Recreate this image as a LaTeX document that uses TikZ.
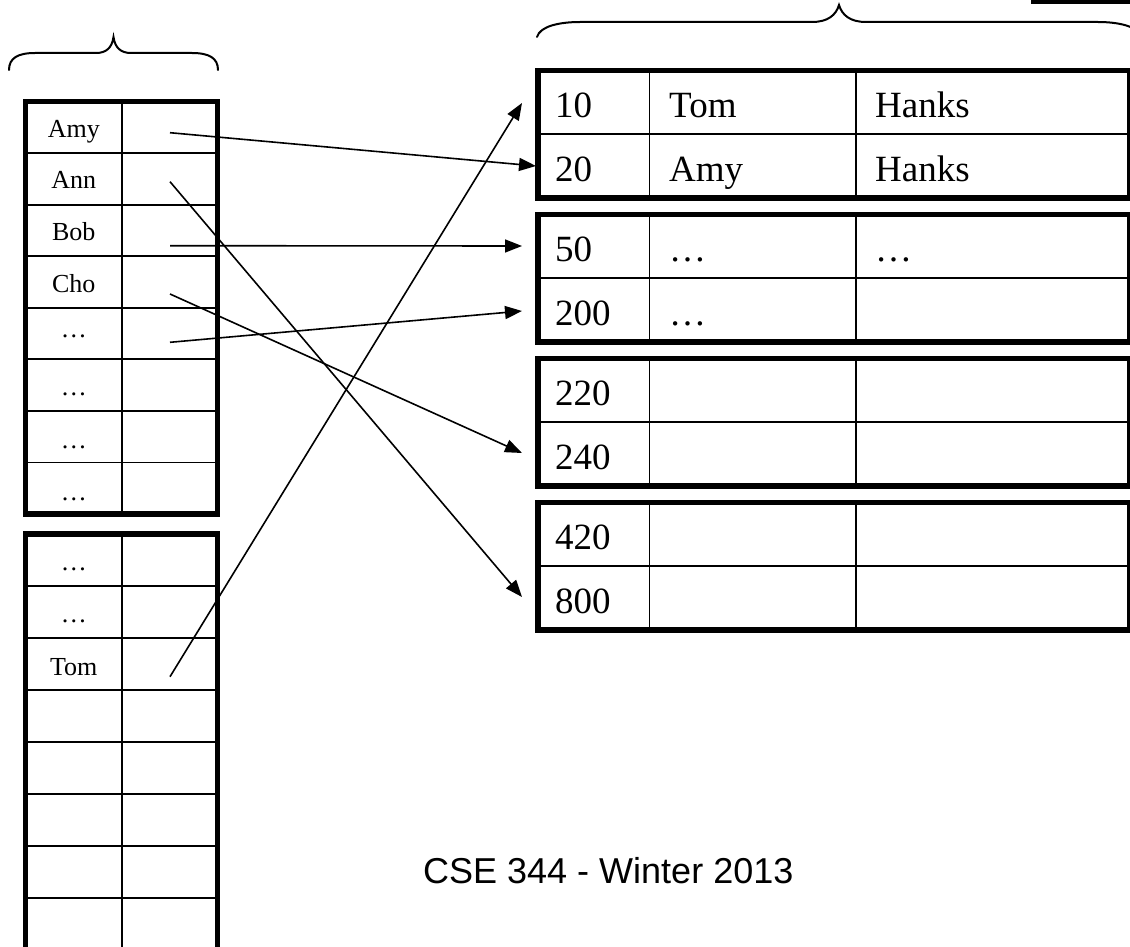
\documentclass[tikz,border=0pt]{standalone}
\usepackage{fontspec}
\setmainfont{Liberation Serif}
\newfontfamily\footfont{Liberation Sans}
\usetikzlibrary{arrows.meta}

\begin{document}
\begin{tikzpicture}[x=1pt,y=-1pt,
  frame/.style={line width=5.5pt},
  grid/.style={line width=1.8pt},
  brace/.style={line width=2pt, line cap=round},
  ptr/.style={line width=1.6pt, -{Triangle[length=17pt,width=13pt]}},
  idx/.style={font=\fontsize{26}{30}\selectfont, anchor=base, inner sep=0pt},
  rec/.style={font=\fontsize{37}{42}\selectfont, anchor=base west, inner sep=0pt}]
\useasboundingbox (0,0) rectangle (1130,947);

% header bar
\fill (1031,-2) rectangle (1130,4);

% braces over the index and over the data blocks
\draw[brace] (9,70) .. controls (9,58) and (18,53) .. (35,53) -- (96,53)
  .. controls (106,53) and (112,48) .. (113.5,37)
  .. controls (115,48) and (121,53) .. (131,53) -- (192,53)
  .. controls (209,53) and (218,58) .. (218,70);
\draw[brace] (537,37) .. controls (540,26) and (560,22) .. (580,22) -- (812,22)
  .. controls (828,22) and (836,15) .. (839,5)
  .. controls (842,15) and (850,22) .. (866,22) -- (1098,22)
  .. controls (1118,22) and (1138,26) .. (1141,37);

% index, first block
\foreach \k in {1,...,7}
  \draw[grid] (25.5,{101.5+\k*51.56}) -- (217.5,{101.5+\k*51.56});
\draw[grid] (122,101.5) -- (122,514);
\draw[frame] (25.5,101.5) rectangle (217.5,514);

% index, second block
\foreach \k in {1,...,7}
  \draw[grid] (25.5,{534+\k*51.95}) -- (217.5,{534+\k*51.95});
\draw[grid] (122,534) -- (122,950);
\draw[frame] (25.5,534) rectangle (217.5,950);

% index keys
\node[idx] (kamy) at (73.75,137.3) {Amy};
\node[idx] (kann) at (73.75,188.9) {Ann};
\node[idx] (kbob) at (73.75,240.4) {Bob};
\node[idx] (kcho) at (73.75,292.0) {Cho};
\node[idx] (kd1) at (73.75,337.0) {…};
\node[idx] (kd2) at (73.75,395.0) {…};
\node[idx] (kd3) at (73.75,448.5) {…};
\node[idx] (kd4) at (73.75,500.5) {…};
\node[idx] (kd5) at (73.75,570.5) {…};
\node[idx] (kd6) at (73.75,622.0) {…};
\node[idx] (ktom) at (73.75,675.0) {Tom};

% data blocks
\foreach \t in {70.5,214.5,358.5,502.5} {
  \draw[grid] (538,\t+63.75) -- (1130,\t+63.75);
  \draw[grid] (649.5,\t) -- (649.5,\t+127.5);
  \draw[grid] (856,\t) -- (856,\t+127.5);
  \draw[frame] (538,\t) rectangle (1130,\t+127.5);
}

\node[rec] (r10) at (555,117.7) {10};
\node[rec] (r10b) at (669,117.7) {Tom};
\node[rec] (r10c) at (875,117.7) {Hanks};
\node[rec] (r20) at (555,181.5) {20};
\node[rec] (r20b) at (669,181.5) {Amy};
\node[rec] (r20c) at (875,181.5) {Hanks};
\node[rec] (r50) at (555,261.7) {50};
\node[rec] (r50b) at (669,261.7) {…};
\node[rec] (r50c) at (875,261.7) {…};
\node[rec] (r200) at (555,325.5) {200};
\node[rec] (r200b) at (669,325.5) {…};
\node[rec] (r220) at (555,405.7) {220};
\node[rec] (r240) at (555,469.5) {240};
\node[rec] (r420) at (555,549.7) {420};
\node[rec] (r800) at (555,613.5) {800};

% pointer slots in the index
\coordinate (pamy) at (170,132.7);
\coordinate (pann) at (170,181.7);
\coordinate (pbob) at (170,245.7);
\coordinate (pcho) at (170,294);
\coordinate (pd1) at (170,342.3);
\coordinate (ptom) at (170,676.7);

% record entry points
\coordinate (e10) at (522,103);
\coordinate (e20) at (536,166);
\coordinate (e50) at (522,246);
\coordinate (e200) at (522,311);
\coordinate (e240) at (522,453);
\coordinate (e800) at (522,597);

\draw[ptr] (pamy) -- (e20);
\draw[ptr] (pann) -- (e800);
\draw[ptr] (pbob) -- (e50);
\draw[ptr] (pcho) -- (e240);
\draw[ptr] (pd1) -- (e200);
\draw[ptr] (ptom) -- (e10);

% footer
\node[anchor=base west, inner sep=0pt, font=\footfont\fontsize{36}{43}\selectfont] (foot) at (423,883) {CSE 344 - Winter 2013};
\end{tikzpicture}
\end{document}
